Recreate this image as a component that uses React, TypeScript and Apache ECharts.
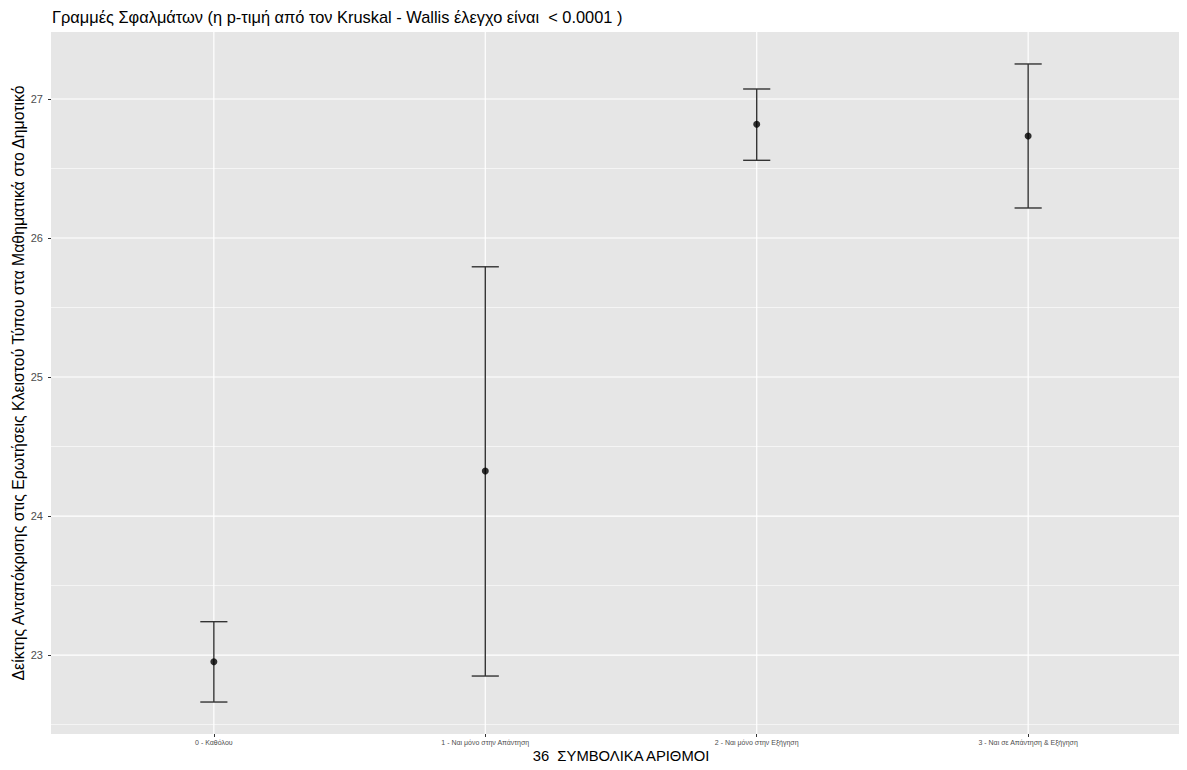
import React, { useEffect, useRef } from "react";
import * as echarts from "echarts";

const categories = [
  "0 - Καθόλου",
  "1 - Ναι μόνο στην Απάντηση",
  "2 - Ναι μόνο στην Εξήγηση",
  "3 - Ναι σε Απάντηση & Εξήγηση",
];
const means = [22.952, 24.324, 26.818, 26.734];
const lower = [22.662, 22.849, 26.559, 26.216];
const upper = [23.24, 25.793, 27.072, 27.252];
const yMajor = [23, 24, 25, 26, 27];
const yMinor = [22.5, 23.5, 24.5, 25.5, 26.5];
const xPositions = [0, 1, 2, 3];

const titleText =
  "Γραμμές Σφαλμάτων (η p-τιμή από τον Kruskal - Wallis έλεγχο είναι  < 0.0001 )";
const yTitle =
  "Δείκτης Ανταπόκρισης στις Ερωτήσεις Κλειστού Τύπου στα Μαθηματικά στο Δημοτικό";
const xTitle = "36_ΣΥΜΒΟΛΙΚΑ ΑΡΙΘΜΟΙ";

const FONT = "Liberation Sans, Arial, Helvetica, sans-serif";

export default function App() {
  const ref = useRef<HTMLDivElement>(null);
  useEffect(() => {
    if (!ref.current) return;
    const chart = echarts.init(ref.current, undefined, { renderer: "svg" });
    const hLine = (width: number) => (params: any, api: any) => {
      const cs = params.coordSys;
      const p = api.coord([0, api.value(0)]);
      return {
        type: "line",
        shape: { x1: cs.x, y1: p[1], x2: cs.x + cs.width, y2: p[1] },
        style: { stroke: "#ffffff", lineWidth: width },
      };
    };
    const option: any = {
      animation: false,
      backgroundColor: "#ffffff",
      textStyle: { fontFamily: FONT },
      title: {
        text: titleText,
        left: 47,
        top: 4,
        textStyle: { fontSize: 16.4, fontWeight: "normal", color: "#000", fontFamily: FONT },
      },
      grid: {
        left: 51,
        right: -4,
        top: 32,
        bottom: 36,
        outerBoundsMode: "none",
        show: true,
        backgroundColor: "#E6E6E6",
        borderWidth: 0,
      },
      xAxis: {
        type: "value",
        min: -0.6,
        max: 3.6,
        name: xTitle,
        nameLocation: "middle",
        nameGap: 14,
        nameMoveOverlap: false,
        nameTextStyle: { fontSize: 14.8, color: "#000", fontFamily: FONT },
        axisLine: { show: false, onZero: false },
        axisTick: {
          show: true,
          customValues: xPositions,
          length: 3,
          lineStyle: { color: "#333", width: 1 },
        },
        axisLabel: {
          customValues: xPositions,
          formatter: (v: number) => categories[Math.round(v)] ?? "",
          fontSize: 7,
          color: "#4D4D4D",
          margin: 5,
          fontFamily: FONT,
        },
        splitLine: { show: false },
      },
      yAxis: {
        type: "value",
        min: 22.432,
        max: 27.482,
        name: yTitle,
        nameLocation: "middle",
        nameGap: 25,
        nameMoveOverlap: false,
        nameRotate: 90,
        nameTextStyle: { fontSize: 15.8, color: "#000", fontFamily: FONT },
        axisLine: { show: false, onZero: false },
        axisTick: {
          show: true,
          customValues: yMajor,
          length: 3,
          lineStyle: { color: "#333", width: 1 },
        },
        axisLabel: {
          customValues: yMajor,
          fontSize: 11,
          color: "#4D4D4D",
          margin: 8,
          fontFamily: FONT,
        },
        splitLine: { show: false },
      },
      series: [
        {
          type: "custom",
          name: "minorGrid",
          silent: true,
          z: 1,
          data: yMinor.map((v) => [v]),
          encode: { y: 0 },
          renderItem: hLine(0.6),
        },
        {
          type: "custom",
          name: "majorGrid",
          silent: true,
          z: 1,
          data: yMajor.map((v) => [v]),
          encode: { y: 0 },
          renderItem: hLine(1.2),
        },
        {
          type: "custom",
          name: "xGrid",
          silent: true,
          z: 1,
          data: xPositions.map((v) => [v]),
          encode: { x: 0 },
          renderItem: (params: any, api: any) => {
            const cs = params.coordSys;
            const p = api.coord([api.value(0), 25]);
            return {
              type: "line",
              shape: { x1: p[0], y1: cs.y, x2: p[0], y2: cs.y + cs.height },
              style: { stroke: "#ffffff", lineWidth: 1.2 },
            };
          },
        },
        {
          type: "custom",
          name: "errorbars",
          silent: true,
          z: 3,
          data: xPositions.map((x, i) => [x, lower[i], upper[i]]),
          encode: { x: 0, y: [1, 2] },
          renderItem: (params: any, api: any) => {
            const x = api.value(0);
            const lo = api.coord([x, api.value(1)]);
            const hi = api.coord([x, api.value(2)]);
            const capL = api.coord([x - 0.05, api.value(1)])[0];
            const capR = api.coord([x + 0.05, api.value(1)])[0];
            const st = { stroke: "#333333", lineWidth: 1.4 };
            return {
              type: "group",
              children: [
                { type: "line", shape: { x1: lo[0], y1: lo[1], x2: hi[0], y2: hi[1] }, style: st },
                { type: "line", shape: { x1: capL, y1: lo[1], x2: capR, y2: lo[1] }, style: st },
                { type: "line", shape: { x1: capL, y1: hi[1], x2: capR, y2: hi[1] }, style: st },
              ],
            };
          },
        },
        {
          type: "scatter",
          name: "mean",
          silent: true,
          z: 4,
          symbol: "circle",
          symbolSize: 7,
          itemStyle: { color: "#000000" },
          data: xPositions.map((x, i) => [x, means[i]]),
        },
      ],
    };
    chart.setOption(option);
    return () => chart.dispose();
  }, []);
  return <div ref={ref} style={{ width: 1187, height: 770, margin: -8 }} />;
}
